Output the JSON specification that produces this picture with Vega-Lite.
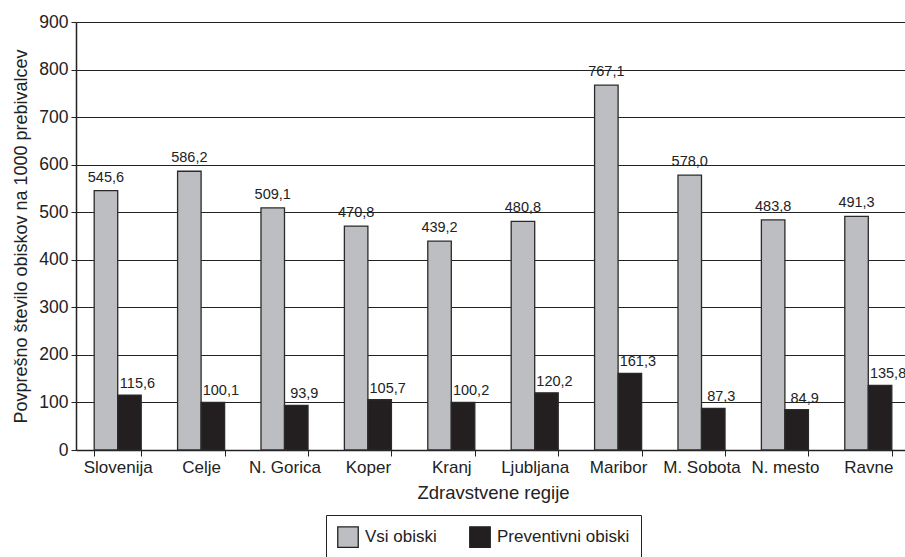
{
  "$schema": "https://vega.github.io/schema/vega-lite/v6.json",
  "autosize": "none",
  "width": 834,
  "height": 428,
  "padding": {"left": 76, "top": 22, "right": 0, "bottom": 107},
  "background": "white",
  "config": {
    "font": "Liberation Sans",
    "view": {"stroke": null},
    "locale": {"number": {"decimal": ",", "thousands": ".", "grouping": [3], "currency": ["", " €"]}}
  },
  "data": {
    "values": [
      {"regija": "Slovenija", "serija": "Vsi obiski", "vrednost": 545.6},
      {"regija": "Slovenija", "serija": "Preventivni obiski", "vrednost": 115.6},
      {"regija": "Celje", "serija": "Vsi obiski", "vrednost": 586.2},
      {"regija": "Celje", "serija": "Preventivni obiski", "vrednost": 100.1},
      {"regija": "N. Gorica", "serija": "Vsi obiski", "vrednost": 509.1},
      {"regija": "N. Gorica", "serija": "Preventivni obiski", "vrednost": 93.9},
      {"regija": "Koper", "serija": "Vsi obiski", "vrednost": 470.8},
      {"regija": "Koper", "serija": "Preventivni obiski", "vrednost": 105.7},
      {"regija": "Kranj", "serija": "Vsi obiski", "vrednost": 439.2},
      {"regija": "Kranj", "serija": "Preventivni obiski", "vrednost": 100.2},
      {"regija": "Ljubljana", "serija": "Vsi obiski", "vrednost": 480.8},
      {"regija": "Ljubljana", "serija": "Preventivni obiski", "vrednost": 120.2},
      {"regija": "Maribor", "serija": "Vsi obiski", "vrednost": 767.1},
      {"regija": "Maribor", "serija": "Preventivni obiski", "vrednost": 161.3},
      {"regija": "M. Sobota", "serija": "Vsi obiski", "vrednost": 578.0},
      {"regija": "M. Sobota", "serija": "Preventivni obiski", "vrednost": 87.3},
      {"regija": "N. mesto", "serija": "Vsi obiski", "vrednost": 483.8},
      {"regija": "N. mesto", "serija": "Preventivni obiski", "vrednost": 84.9},
      {"regija": "Ravne", "serija": "Vsi obiski", "vrednost": 491.3},
      {"regija": "Ravne", "serija": "Preventivni obiski", "vrednost": 135.8}
    ]
  },
  "encoding": {
    "x": {
      "field": "regija",
      "type": "nominal",
      "sort": null,
      "scale": {"paddingInner": 0.436, "paddingOuter": 0.218},
      "axis": {
        "title": "Zdravstvene regije",
        "titleFontSize": 18.5,
        "titleFontWeight": "normal",
        "titleColor": "#222",
        "titlePadding": 8,
        "labelAngle": 0,
        "labelFontSize": 17,
        "labelColor": "#222",
        "labelPadding": 3,
        "tickBand": "extent",
        "tickSize": 6,
        "tickColor": "#222",
        "domainColor": "#222",
        "domainWidth": 1.5,
        "grid": false
      }
    },
    "xOffset": {"field": "serija", "type": "nominal", "sort": ["Vsi obiski", "Preventivni obiski"]},
    "y": {
      "field": "vrednost",
      "type": "quantitative",
      "scale": {"domain": [0, 900], "nice": false},
      "axis": {
        "title": "Povprešno število obiskov na 1000 prebivalcev",
        "titleFontSize": 18,
        "titleFontWeight": "normal",
        "titleColor": "#222",
        "titlePadding": 8,
        "values": [0, 100, 200, 300, 400, 500, 600, 700, 800, 900],
        "labelFontSize": 17.5,
        "labelColor": "#222",
        "labelPadding": 3,
        "tickSize": 5,
        "tickColor": "#222",
        "domainColor": "#222",
        "domainWidth": 1.5,
        "grid": true,
        "gridColor": "#222",
        "gridWidth": 1.2,
        "gridOpacity": 1
      }
    }
  },
  "layer": [
    {
      "mark": {"type": "bar", "stroke": "#2a2a2a", "strokeWidth": 1.3},
      "encoding": {
        "color": {
          "field": "serija",
          "type": "nominal",
          "sort": ["Vsi obiski", "Preventivni obiski"],
          "scale": {"domain": ["Vsi obiski", "Preventivni obiski"], "range": ["#bdbec1", "#231f20"]},
          "legend": {
            "title": null,
            "orient": "none",
            "direction": "horizontal",
            "legendX": 250,
            "legendY": 493,
            "strokeColor": "#222",
            "padding": 11,
            "symbolType": "square",
            "symbolSize": 420,
            "symbolStrokeColor": "#222",
            "symbolStrokeWidth": 1.3,
            "labelFontSize": 17,
            "labelColor": "#222",
            "labelOffset": 6,
            "columnPadding": 30
          }
        }
      }
    },
    {
      "transform": [{"filter": "datum.serija === 'Vsi obiski'"}],
      "mark": {"type": "text", "baseline": "bottom", "dy": -6, "fontSize": 14.5, "color": "#222"},
      "encoding": {"text": {"field": "vrednost", "type": "quantitative", "format": ".1f"}}
    },
    {
      "transform": [{"filter": "datum.serija === 'Preventivni obiski'"}],
      "mark": {"type": "text", "baseline": "bottom", "dy": -4, "dx": 8, "fontSize": 14.5, "color": "#222"},
      "encoding": {"text": {"field": "vrednost", "type": "quantitative", "format": ".1f"}}
    }
  ]
}
